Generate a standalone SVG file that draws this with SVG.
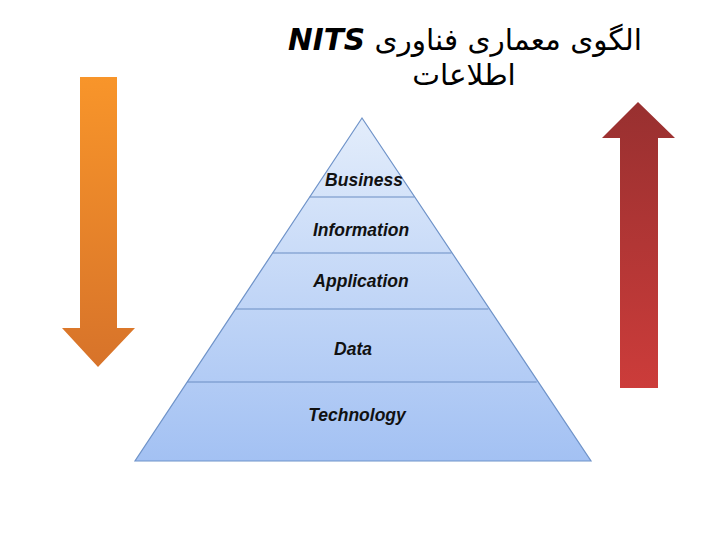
<svg xmlns="http://www.w3.org/2000/svg" width="720" height="540" viewBox="0 0 720 540">
<defs>
<linearGradient id="gPyr" x1="0" y1="0" x2="0" y2="1">
<stop offset="0" stop-color="#e3edfb"/>
<stop offset="1" stop-color="#a3c1f3"/>
</linearGradient>
<linearGradient id="gOr" x1="0" y1="0" x2="0" y2="1">
<stop offset="0" stop-color="#f8952a"/>
<stop offset="1" stop-color="#d7732a"/>
</linearGradient>
<linearGradient id="gRd" x1="0" y1="0" x2="0" y2="1">
<stop offset="0" stop-color="#983030"/>
<stop offset="1" stop-color="#cc3c3a"/>
</linearGradient>
<style>
.lbl{font-family:"Liberation Sans",Arial,sans-serif;font-weight:bold;font-style:italic;font-size:17.5px;fill:#111;text-anchor:middle}
.sep{stroke:#6a8dc4;stroke-width:1.2;fill:none}
.title{font-family:"DejaVu Sans","Noto Sans",sans-serif;font-size:29.5px;fill:#000;text-anchor:middle}
</style>
</defs>
<rect width="720" height="540" fill="#fff"/>
<g id="title">
<text class="title" x="465" y="50" direction="rtl">الگوی معماری فناوری <tspan font-weight="bold" font-style="italic">NITS</tspan></text>
<text class="title" x="464" y="85" direction="rtl">اطلاعات</text>
</g>
<g id="arrow-down">
<polygon points="80,77 117,77 117,328 135,328 98,367 62,328 80,328" fill="url(#gOr)"/>
</g>
<g id="arrow-up">
<polygon points="638,102 675,138 658,138 658,388 620,388 620,138 602,138" fill="url(#gRd)"/>
</g>
<g id="pyramid">
<polygon points="362,118 591,461 135,461" fill="url(#gPyr)" stroke="#6f93c9" stroke-width="1.2"/>
</g>
<g id="connectors">
<line class="sep" x1="309.7" y1="197" x2="414.3" y2="197"/>
<line class="sep" x1="272.6" y1="253" x2="451.4" y2="253"/>
<line class="sep" x1="235.6" y1="309" x2="488.4" y2="309"/>
<line class="sep" x1="187.3" y1="382" x2="536.7" y2="382"/>
</g>
<g id="layer-business"><text class="lbl" x="364" y="186">Business</text></g>
<g id="layer-information"><text class="lbl" x="361" y="236">Information</text></g>
<g id="layer-application"><text class="lbl" x="361" y="287">Application</text></g>
<g id="layer-data"><text class="lbl" x="353" y="355">Data</text></g>
<g id="layer-technology"><text class="lbl" x="357" y="421">Technology</text></g>
</svg>
